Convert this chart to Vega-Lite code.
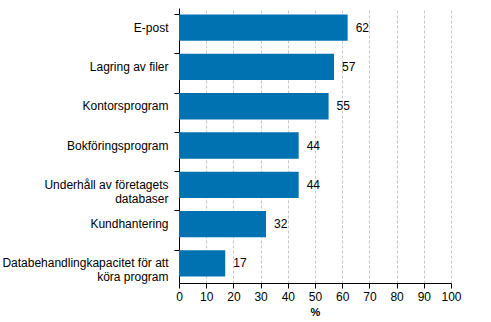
{
  "$schema": "https://vega.github.io/schema/vega-lite/v6.json",
  "autosize": {"type": "none"},
  "padding": {"left": 179, "top": 8, "right": 40, "bottom": 39},
  "width": 272,
  "height": 275,
  "background": "white",
  "config": {
    "view": {"stroke": null},
    "font": "Liberation Sans",
    "axis": {"labelFont": "Liberation Sans", "titleFont": "Liberation Sans", "labelColor": "#000000", "titleColor": "#000000"}
  },
  "data": {
    "values": [
      {"category": "E-post", "value": 62},
      {"category": "Lagring av filer", "value": 57},
      {"category": "Kontorsprogram", "value": 55},
      {"category": "Bokföringsprogram", "value": 44},
      {"category": "Underhåll av företagets databaser", "value": 44},
      {"category": "Kundhantering", "value": 32},
      {"category": "Databehandlingkapacitet för att köra program", "value": 17}
    ]
  },
  "encoding": {
    "y": {
      "field": "category",
      "type": "nominal",
      "sort": null,
      "scale": {"paddingInner": 0.33, "paddingOuter": 0.165},
      "axis": {
        "title": null,
        "bandPosition": 0,
        "domainColor": "#000000",
        "tickColor": "#000000",
        "tickSize": 5,
        "labelFontSize": 12,
        "labelPadding": 6,
        "labelLimit": 200,
        "labelLineHeight": 14,
        "labelExpr": "datum.label == 'Underhåll av företagets databaser' ? ['Underhåll av företagets', 'databaser'] : datum.label == 'Databehandlingkapacitet för att köra program' ? ['Databehandlingkapacitet för att', 'köra program'] : datum.label"
      }
    },
    "x": {
      "field": "value",
      "type": "quantitative",
      "scale": {"domain": [0, 100], "nice": false},
      "axis": {
        "title": "%",
        "titleFontSize": 11,
        "titleFontWeight": "bold",
        "titlePadding": 4,
        "values": [0, 10, 20, 30, 40, 50, 60, 70, 80, 90, 100],
        "labelFontSize": 12,
        "labelPadding": 3,
        "tickSize": 5,
        "tickColor": "#000000",
        "domainColor": "#000000",
        "grid": true,
        "gridColor": "#c8c8c8",
        "gridDash": [3, 2],
        "labelFlush": false
      }
    }
  },
  "layer": [
    {"mark": {"type": "bar", "color": "#0072B1"}},
    {
      "mark": {"type": "text", "align": "left", "baseline": "middle", "dx": 8, "fontSize": 12, "color": "#000000"},
      "encoding": {"text": {"field": "value", "type": "quantitative"}}
    }
  ]
}
